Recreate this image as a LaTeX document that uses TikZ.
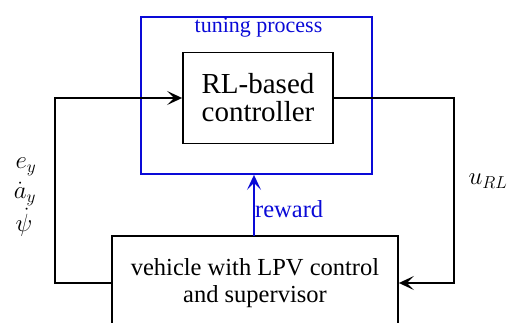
\documentclass[tikz,border=0pt]{standalone}
\usepackage{fontspec}
\setmainfont{Liberation Serif}
\usetikzlibrary{arrows.meta}
\definecolor{tuneblue}{RGB}{10,10,215}
\tikzset{
  blk/.style={draw=black, line width=1.8pt, rectangle, inner sep=0pt},
  wire/.style={line width=1.8pt, draw=black},
  tip/.style={-{Stealth[length=15pt,width=14pt,inset=7pt]}},
  bluewire/.style={line width=1.8pt, draw=tuneblue},
  sigfont/.style={font=\fontsize{23.5}{26}\selectfont, inner sep=0pt},
}
\begin{document}
\begin{tikzpicture}[x=1pt,y=-1pt]
\useasboundingbox (0,0) rectangle (507,323);
\clip (0,0) rectangle (507,323);
\node[draw=tuneblue, line width=1.8pt, minimum width=231pt, minimum height=157pt, inner sep=0pt] (tune) at (256.5,95.5) {};
\node[text=tuneblue, font=\fontsize{22}{26}\selectfont, inner sep=0pt] (tunelabel) at (258.5,28) {tuning process};
\node[blk, minimum width=150pt, minimum height=91pt, align=center, font=\fontsize{29}{28}\selectfont] (rl) at (258,98) {RL-based\\controller};
\node[blk, minimum width=286pt, minimum height=94pt, align=center, font=\fontsize{24.5}{27}\selectfont] (veh) at (255,283) {vehicle with LPV control\\and supervisor};
\coordinate (lc) at (55,98);
\coordinate (rc) at (454,98);
\coordinate (rwb) at (254,236);
\draw[wire, tip] (veh.west) -| (lc) -- (rl.west);
\draw[wire, tip] (rl.east) -- (rc) |- (veh.east);
\draw[bluewire, tip] (rwb) -- (rwb |- tune.south);
\node[text=tuneblue, font=\fontsize{24.5}{28}\selectfont, anchor=west, inner sep=0pt] (rew) at (255,209) {reward};
\node[sigfont] (ey) at (26,167) {$e_y$};
\node[sigfont] (ay) at (25,194) {$\dot a_y$};
\node[sigfont] (psi) at (24,222) {$\dot\psi$};
\node[font=\fontsize{24.5}{28}\selectfont, inner sep=0pt] (url) at (488,181) {$u_{RL}$};
\end{tikzpicture}
\end{document}
